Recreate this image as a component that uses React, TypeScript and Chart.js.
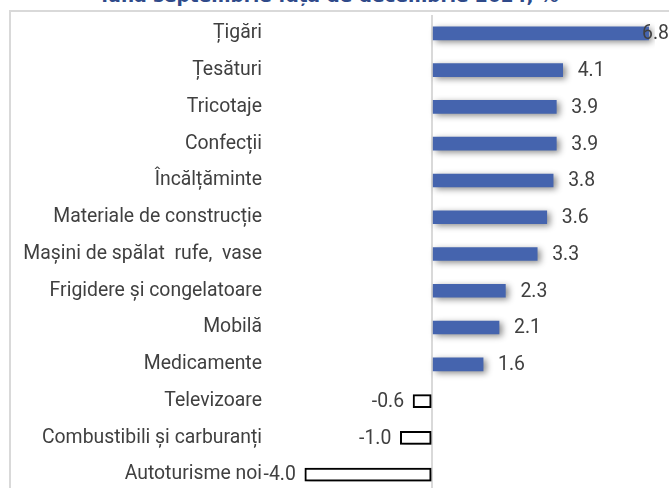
import React, { useEffect, useRef } from 'react';
import { Chart, registerables } from 'chart.js';

Chart.register(...registerables);

const titleText = 'luna septembrie față de decembrie 2024, %';
const categories = [
  'Țigări',
  'Țesături',
  'Tricotaje',
  'Confecții',
  'Încălțăminte',
  'Materiale de construcție',
  'Mașini de spălat  rufe,  vase',
  'Frigidere și congelatoare',
  'Mobilă',
  'Medicamente',
  'Televizoare',
  'Combustibili și carburanți',
  'Autoturisme noi',
];
const values = [6.8, 4.1, 3.9, 3.9, 3.8, 3.6, 3.3, 2.3, 2.1, 1.6, -0.6, -1.0, -4.0];

const FONT_FAMILY = "'Liberation Sans Narrow', 'Arial Narrow', Roboto, sans-serif";
const FONT_SIZE = 19.4;
const TEXT_COLOR = '#404040';
const BAR_COLOR = '#4564AE';

const shadowPlugin = {
  id: 'barShadow',
  beforeDatasetsDraw(chart: any) {
    const c = chart.ctx;
    c.save();
    c.shadowColor = 'rgba(0,0,0,0.45)';
    c.shadowBlur = 6;
    c.shadowOffsetX = 3;
    c.shadowOffsetY = 2;
  },
  afterDatasetsDraw(chart: any) {
    chart.ctx.restore();
  },
};

const valueLabelPlugin = {
  id: 'valueLabels',
  afterDatasetsDraw(chart: any) {
    const c = chart.ctx;
    const meta = chart.getDatasetMeta(0);
    c.save();
    c.font = `${FONT_SIZE}px ${FONT_FAMILY}`;
    c.fillStyle = TEXT_COLOR;
    c.textBaseline = 'middle';
    meta.data.forEach((bar: any, i: number) => {
      const v = values[i];
      const txt = v.toFixed(1);
      const w = c.measureText(txt).width;
      if (v >= 0) {
        let x = bar.x + 15;
        if (x + w > chart.width) x = chart.width - w;
        c.textAlign = 'left';
        c.fillText(txt, x, bar.y + 1);
      } else {
        c.textAlign = 'right';
        c.fillText(txt, bar.x - 9, bar.y + 1);
      }
    });
    c.restore();
  },
};

export default function App() {
  const canvasRef = useRef<HTMLCanvasElement | null>(null);

  useEffect(() => {
    if (!canvasRef.current) return;
    const chart = new Chart(canvasRef.current, {
      type: 'bar',
      data: {
        labels: categories,
        datasets: [
          {
            data: values,
            backgroundColor: values.map((v) => (v >= 0 ? BAR_COLOR : '#ffffff')),
            borderColor: values.map((v) => (v >= 0 ? BAR_COLOR : '#000000')),
            borderWidth: values.map((v) => (v >= 0 ? 0 : 2)),
            borderSkipped: false,
            barThickness: 13,
          },
        ],
      },
      options: {
        indexAxis: 'y',
        responsive: false,
        animation: false,
        layout: { padding: { top: 3, right: 14, bottom: 9, left: 0 } },
        plugins: {
          legend: { display: false },
          tooltip: { enabled: false },
          title: { display: false },
        },
        scales: {
          x: {
            min: -5,
            max: 7,
            ticks: { display: false, stepSize: 1 },
            border: { display: false },
            grid: {
              drawTicks: false,
              lineWidth: 2,
              color: (ctx: any) => (ctx.tick && ctx.tick.value === 0 ? '#d9d9d9' : 'rgba(0,0,0,0)'),
            },
            afterFit: (s: any) => {
              s.height = 0;
              s.paddingLeft = 0;
              s.paddingRight = 0;
            },
          },
          y: {
            grid: { display: false, drawTicks: false },
            border: { display: false },
            ticks: {
              color: TEXT_COLOR,
              font: { family: FONT_FAMILY, size: FONT_SIZE },
              padding: 11,
              autoSkip: false,
            },
            afterFit: (s: any) => {
              s.width = 263;
              s.paddingTop = 0;
              s.paddingBottom = 0;
            },
          },
        },
      },
      plugins: [shadowPlugin, valueLabelPlugin],
    });
    return () => chart.destroy();
  }, []);

  return (
    <div
      style={{
        position: 'absolute',
        left: 0,
        top: 0,
        width: 669,
        height: 488,
        overflow: 'hidden',
        background: '#ffffff',
      }}
    >
      <div
        style={{
          position: 'absolute',
          left: 0,
          top: -14.5,
          width: 660,
          textAlign: 'center',
          fontFamily: "'DejaVu Sans', sans-serif",
          fontWeight: 'bold',
          fontSize: 18.5,
          lineHeight: '20px',
          color: '#2F4A8A',
          whiteSpace: 'nowrap',
        }}
      >
        {titleText}
      </div>
      <div
        style={{
          position: 'absolute',
          left: 9,
          top: 10,
          width: 700,
          height: 500,
          borderTop: '2px solid #d9d9d9',
          borderLeft: '2px solid #d9d9d9',
          boxSizing: 'border-box',
        }}
      />
      <canvas
        ref={canvasRef}
        width={659}
        height={490}
        style={{ position: 'absolute', left: 10, top: 12, width: 659, height: 490 }}
      />
    </div>
  );
}
